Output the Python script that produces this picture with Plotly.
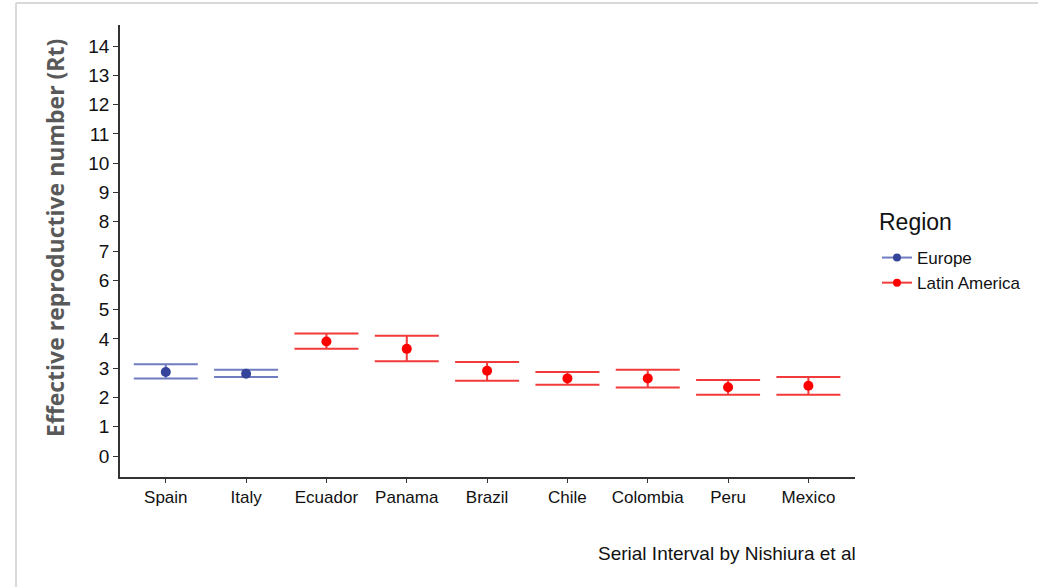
import plotly.graph_objects as go

countries = ["Spain", "Italy", "Ecuador", "Panama", "Brazil", "Chile", "Colombia", "Peru", "Mexico"]
regions = ["Europe", "Europe", "Latin America", "Latin America", "Latin America",
           "Latin America", "Latin America", "Latin America", "Latin America"]
rt_mean = [2.87, 2.81, 3.91, 3.66, 2.91, 2.65, 2.65, 2.35, 2.40]
rt_upper = [3.13, 2.95, 4.18, 4.11, 3.21, 2.87, 2.95, 2.60, 2.70]
rt_lower = [2.65, 2.70, 3.66, 3.24, 2.57, 2.43, 2.34, 2.09, 2.09]
y_ticks = list(range(0, 15))

region_styles = {
    "Europe": {"color": "#34449b", "err": "#6f7cc0"},
    "Latin America": {"color": "#ff0000", "err": "#f23a3a"},
}

fig = go.Figure()
for reg, st in region_styles.items():
    idx = [i for i, r in enumerate(regions) if r == reg]
    xs = [countries[i] for i in idx]
    ys = [rt_mean[i] for i in idx]
    up = [rt_upper[i] - rt_mean[i] for i in idx]
    lo = [rt_mean[i] - rt_lower[i] for i in idx]
    fig.add_trace(go.Scatter(
        x=xs, y=ys, mode="markers", showlegend=False,
        marker=dict(color=st["color"], size=10),
        error_y=dict(type="data", symmetric=False, array=up, arrayminus=lo,
                     color=st["err"], thickness=2, width=32),
    ))
    # legend entry
    fig.add_trace(go.Scatter(
        x=[None], y=[None], mode="lines+markers", name=reg,
        marker=dict(color=st["color"], size=8),
        line=dict(color=st["err"], width=2),
    ))

fig.update_layout(
    width=1038, height=587,
    margin=dict(l=120, r=183, t=25, b=110),
    paper_bgcolor="white", plot_bgcolor="white",
    font=dict(family="Liberation Sans, Arial, sans-serif", color="#222"),
    legend=dict(
        x=(877 - 120) / 735, xanchor="left", y=(477 - 240) / 452, yanchor="top",
        font=dict(size=17, color="#111"),
        tracegroupgap=0, itemwidth=30,
    ),
    xaxis=dict(
        type="category", categoryorder="array", categoryarray=countries,
        range=[-0.57, 8.58], showline=True, linecolor="#333", linewidth=1.5,
        ticks="outside", ticklen=4, tickcolor="#333", showgrid=False, zeroline=False,
        tickfont=dict(size=17, color="#111"),
    ),
    yaxis=dict(
        range=[-0.717, 14.72], tickvals=y_ticks, showline=True, linecolor="#333",
        linewidth=1.5, ticks="outside", ticklen=5, tickcolor="#333",
        showgrid=False, zeroline=False, tickfont=dict(size=19, color="#111"),
    ),
    annotations=[
        dict(text="<b>Effective reproductive number (Rt)</b>", textangle=-90,
             xref="paper", yref="paper", x=(55 - 120) / 735, y=(477 - 238) / 452,
             xanchor="center", yanchor="middle", showarrow=False,
             font=dict(family="Open Sans, DejaVu Sans, sans-serif", size=23, color="#595959")),
        dict(text="Serial Interval by Nishiura et al", xref="paper", yref="paper",
             x=(858 - 120) / 735, y=(477 - 553) / 452, xanchor="right", yanchor="middle",
             showarrow=False, font=dict(size=19, color="#111")),
        dict(text="Region", xref="paper", yref="paper",
             x=(877 - 120) / 735, y=(477 - 222) / 452, xanchor="left", yanchor="middle",
             showarrow=False, font=dict(size=23, color="#111")),
    ],
    shapes=[
        dict(type="line", xref="paper", yref="paper",
             x0=(16 - 120) / 735, x1=(1040 - 120) / 735,
             y0=(477 - 3) / 452, y1=(477 - 3) / 452,
             line=dict(color="#d9d9d9", width=2)),
        dict(type="line", xref="paper", yref="paper",
             x0=(16 - 120) / 735, x1=(16 - 120) / 735,
             y0=(477 - 3) / 452, y1=(477 - 590) / 452,
             line=dict(color="#d9d9d9", width=2)),
    ],
)

fig.write_html("out.html", config={"displayModeBar": False},
               post_script="document.body.style.margin='0px';document.body.style.overflow='hidden';")
